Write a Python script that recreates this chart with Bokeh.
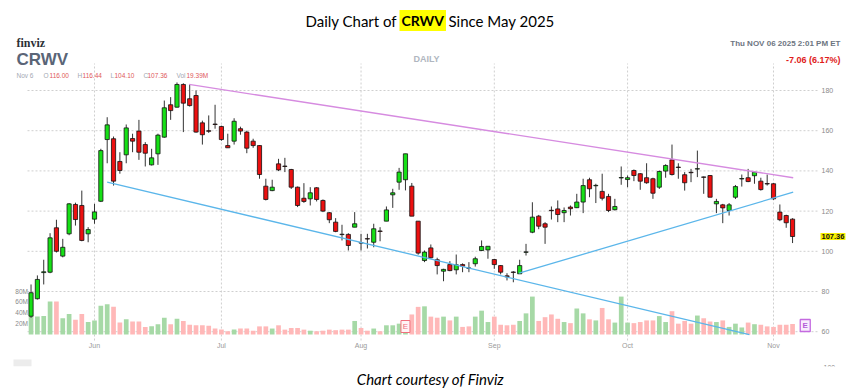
import pandas as pd
from bokeh.plotting import figure
from bokeh.models import Range1d, Label, ColumnDataSource
from bokeh.core.properties import value
from bokeh.embed import file_html
from bokeh.resources import INLINE

# ---------------- data ----------------
symbol = "CRWV"
holidays = ["2025-05-26", "2025-06-19", "2025-07-04", "2025-09-01"]
all_days = [d.strftime("%Y-%m-%d") for d in pd.bdate_range("2025-05-16", "2025-11-14")
            if d.strftime("%Y-%m-%d") not in holidays]
dates = [d for d in all_days if d <= "2025-11-06"]

opens = [67.7, 76.4, 89.4, 89.6, 111.7, 97.6, 108.7, 123.3, 122.8, 108.7,
         116.0, 124.9, 155.6, 156.0, 144.7, 148.0, 156.1, 159.8, 153.1, 143.0,
         148.5, 156.8, 172.9, 171.7, 183.0, 175.9, 177.5, 163.9, 160.0, 163.3,
         162.1, 152.6, 154.8, 161.0, 159.3, 154.8, 152.6, 132.4, 130.2, 143.5,
         142.4, 140.7, 131.9, 126.4, 126.1, 131.6, 125.3, 119.2, 114.5, 108.5,
         108.4, 112.0, 104.3, 106.3, 104.5, 110.1, 115.0, 128.1, 134.4, 135.6,
         132.4, 115.0, 95.4, 101.7, 95.8, 90.1, 93.4, 90.8, 93.4, 91.7,
         93.8, 100.4, 100.7, 95.9, 92.9, 87.8, 89.7, 88.8, 99.5, 109.5,
         117.5, 113.7, 120.4, 121.1, 119.2, 122.0, 121.7, 124.5, 135.6, 132.6,
         129.8, 127.3, 120.7, 136.5, 135.7, 140.2, 138.6, 136.6, 136.1, 131.9,
         139.9, 145.5, 141.9, 138.1, 139.3, 140.9, 137.0, 137.7, 123.6, 123.1,
         120.3, 126.9, 136.0, 136.6, 137.6, 134.9, 133.7, 133.6, 119.5, 117.8,
         116.00]
highs = [83.5, 88.0, 95.8, 109.0, 115.7, 106.2, 124.0, 124.2, 130.2, 112.0,
         123.6, 151.0, 166.7, 157.1, 149.3, 163.1, 158.5, 165.4, 154.3, 151.0,
         158.5, 175.0, 176.7, 184.0, 183.6, 183.0, 180.0, 165.0, 167.6, 172.9,
         162.5, 158.5, 166.2, 162.0, 160.0, 156.0, 152.8, 136.1, 135.6, 146.0,
         146.5, 141.0, 132.2, 133.9, 131.9, 131.9, 125.8, 119.5, 116.5, 113.2,
         109.0, 119.5, 108.7, 108.7, 113.7, 112.0, 122.3, 131.1, 141.5, 148.5,
         134.0, 115.0, 100.4, 103.4, 96.8, 91.3, 95.1, 98.4, 94.0, 94.6,
         97.3, 105.4, 102.5, 96.2, 93.1, 89.1, 90.1, 95.8, 103.7, 124.4,
         118.1, 114.5, 122.3, 125.3, 121.8, 122.8, 128.6, 136.1, 136.6, 133.6,
         138.6, 128.6, 126.1, 142.2, 137.7, 140.7, 138.9, 143.8, 136.6, 140.2,
         143.3, 153.1, 143.8, 139.4, 141.0, 150.1, 137.2, 137.9, 126.1, 123.6,
         124.0, 133.0, 138.2, 141.0, 139.9, 136.6, 138.2, 133.9, 123.3, 118.2,
         116.44]
lows = [66.9, 76.0, 83.5, 89.1, 99.4, 97.0, 108.0, 112.8, 105.0, 104.5,
        113.7, 124.5, 143.8, 132.7, 138.6, 143.8, 149.3, 145.5, 142.2, 142.7,
        143.0, 156.5, 165.4, 171.5, 159.3, 172.0, 159.0, 153.1, 158.9, 161.0,
        155.0, 151.5, 153.1, 158.0, 148.8, 151.5, 136.1, 125.3, 129.9, 139.9,
        139.4, 131.0, 122.0, 124.1, 122.8, 124.8, 119.5, 114.0, 109.5, 105.4,
        100.4, 112.0, 100.4, 101.4, 102.0, 105.0, 115.0, 121.6, 130.6, 130.3,
        117.5, 98.3, 94.6, 96.3, 88.5, 85.1, 90.1, 88.5, 89.6, 89.6,
        92.4, 100.1, 96.3, 91.3, 88.5, 85.5, 84.6, 88.8, 97.9, 109.0,
        111.0, 103.7, 115.8, 114.5, 114.5, 117.8, 121.5, 119.0, 126.9, 124.0,
        125.3, 119.5, 120.3, 133.1, 131.9, 134.9, 130.6, 133.6, 126.1, 131.0,
        136.6, 137.7, 136.1, 130.2, 134.4, 136.9, 128.6, 126.9, 119.0, 114.0,
        117.8, 126.0, 132.2, 134.4, 133.6, 130.2, 132.7, 125.6, 115.0, 111.7,
        104.10]
closes = [79.4, 86.0, 89.8, 106.7, 100.0, 102.0, 123.6, 115.8, 105.4, 110.8,
          119.6, 150.1, 162.9, 134.9, 140.2, 161.4, 154.8, 149.3, 148.8, 146.5,
          157.8, 171.4, 170.0, 183.0, 173.7, 172.5, 159.3, 158.0, 159.7, 163.1,
          155.6, 151.5, 164.7, 159.8, 151.3, 152.6, 138.2, 125.8, 131.9, 140.5,
          142.2, 131.9, 122.8, 124.8, 129.1, 125.8, 120.0, 115.7, 109.9, 108.3,
          102.9, 113.7, 104.1, 106.1, 111.2, 109.9, 120.6, 129.1, 139.4, 148.5,
          117.5, 99.1, 99.6, 96.8, 92.9, 91.0, 90.4, 93.3, 92.6, 91.5,
          96.3, 102.4, 102.5, 93.4, 89.6, 87.3, 89.5, 92.9, 99.7, 117.0,
          112.5, 112.0, 120.2, 118.3, 120.3, 121.2, 124.5, 132.7, 131.1, 132.8,
          126.4, 120.3, 122.3, 136.7, 136.6, 137.7, 134.9, 134.1, 128.9, 139.7,
          142.7, 138.2, 141.7, 134.1, 139.1, 141.1, 136.8, 126.9, 124.8, 121.6,
          123.1, 132.2, 136.2, 134.7, 139.4, 130.7, 133.5, 126.1, 115.7, 114.2,
          107.36]
volumes_m = [33, 33, 34, 61, 61, 30, 38, 27, 38, 23,
             26, 53, 56, 51, 22, 28, 24, 24, 14, 15,
             19, 31, 19, 29, 25, 18, 17, 17, 16, 11,
             9, 6, 9, 11, 11, 7, 15, 15, 11, 17,
             9, 12, 12, 9, 7, 6, 7, 9, 8, 9,
             9, 25, 12, 7, 11, 6, 17, 17, 20, 22,
             37, 51, 52, 33, 31, 33, 26, 33, 14, 15,
             33, 44, 23, 33, 18, 17, 18, 25, 39, 70,
             25, 32, 37, 29, 23, 21, 48, 39, 28, 26,
             49, 28, 22, 70, 22, 21, 23, 26, 26, 34,
             23, 43, 20, 25, 20, 35, 30, 24, 23, 26,
             14, 20, 13, 22, 19, 18, 15, 14, 18, 18,
             19.39]

month_labels = ["Jun", "Jul", "Aug", "Sep", "Oct", "Nov"]
price_ticks = [60, 80, 100, 120, 140, 160, 180]
volume_ticks = [20, 40, 60, 80]
volume_tick_labels = ["20M", "40M", "60M", "80M"]

# hand-drawn trendlines: (bar index, price)
resistance_x = [24.9, 120.1]
resistance_y = [183.0, 136.6]
support1_x = [12.0, 113.2]
support1_y = [134.4, 58.5]
support2_x = [76.9, 120.1]
support2_y = [89.1, 129.4]

earnings_past = ["2025-08-12"]
earnings_next = ["2025-11-10"]

change_abs = -7.06
change_pct = 6.17
last_volume_label = "19.39M"

# ---------------- layout constants (page pixels) ----------------
W, H = 860, 392
BAR_PX = 6.346        # horizontal pixels per session
JUN_PX = 94           # page x of the first June session
P180_PX = 90          # page y of price 180
PRICE_PX = 2.01       # pixels per 1 $
VOL0_PX = 334         # page y of zero volume
VOL_PX = 0.5417       # pixels per 1M shares
PANEL_L, PANEL_R, PANEL_T, PANEL_B = 27, 817, 63, 340

month_pos = []
for m in ["2025-06", "2025-07", "2025-08", "2025-09", "2025-10", "2025-11"]:
    month_pos.append(next(i for i, d in enumerate(dates) if d.startswith(m)))
JUN_IDX = month_pos[0]


def kx(px):
    return (px - JUN_PX) / BAR_PX + JUN_IDX


def py(px):
    return 180 - (px - P180_PX) / PRICE_PX


def vy(px):
    return (VOL0_PX - px) / VOL_PX


idx = list(range(len(dates)))
GREEN = "#16e016"
RED = "#ec1010"
VGREEN = "#a6d9a6"
VRED = "#ffb8b8"
up = [c >= o for o, c in zip(opens, closes)]
src = ColumnDataSource(dict(
    x=idx, open=opens, high=highs, low=lows, close=closes,
    top=[max(o, c) for o, c in zip(opens, closes)],
    bottom=[min(o, c) for o, c in zip(opens, closes)],
    color=[GREEN if u else RED for u in up],
    vol=volumes_m,
    vcolor=[VGREEN if u else VRED for u in up],
))

p = figure(width=W, height=H, x_range=Range1d(kx(0), kx(W)), y_range=Range1d(py(H), py(0)),
           x_axis_type=None, y_axis_type=None, output_backend="svg", toolbar_location=None,
           min_border=0, min_border_left=0, min_border_right=0, min_border_top=0, min_border_bottom=0,
           background_fill_color="white", border_fill_color="white", outline_line_color=None)
p.extra_y_ranges = {"vol": Range1d(vy(H), vy(0))}

AX_FONT = "Liberation Sans"
GRID = dict(line_color="#cfcfcf", line_dash="2 2", line_width=1)

# grid lines (price levels and month starts)
p.segment(x0=[kx(PANEL_L)] * len(price_ticks), x1=[kx(PANEL_R)] * len(price_ticks),
          y0=price_ticks, y1=price_ticks, **GRID)
p.segment(x0=month_pos, x1=month_pos, y0=[py(PANEL_B)] * len(month_pos),
          y1=[py(PANEL_T)] * len(month_pos), **GRID)

# axis labels
p.text(x=[kx(821)] * len(price_ticks), y=price_ticks, text=[str(t) for t in price_ticks],
       text_align="left", text_baseline="middle", text_font_size="7px", text_color="#8a8a8a",
       text_font=value(AX_FONT))
p.text(x=month_pos, y=[py(345)] * len(month_pos), text=month_labels, text_align="center",
       text_baseline="middle", text_font_size="7px", text_color="#9a9a9a", text_font=value(AX_FONT))
p.text(x=[kx(27.5)] * len(volume_ticks), y=volume_ticks, text=volume_tick_labels,
       text_align="right", text_baseline="middle", text_font_size="6.5px", text_color="#8a8a8a",
       text_font=value(AX_FONT), y_range_name="vol")

# volume bars
p.vbar(x="x", top="vol", bottom=0, width=0.74, fill_color="vcolor", line_color=None,
       y_range_name="vol", source=src)

# earnings markers
e_past = [all_days.index(d) for d in earnings_past]
e_next = [all_days.index(d) for d in earnings_next]
p.rect(x=e_past, y=[vy(326)] * len(e_past), width=9, height=12, width_units="screen",
       height_units="screen", fill_color="#fff4f5", line_color="#f0707e", line_width=1,
       y_range_name="vol")
p.text(x=e_past, y=[vy(326)] * len(e_past), text=["E"] * len(e_past), text_align="center",
       text_baseline="middle", text_font_size="8px", text_color="#f0707e",
       text_font=value(AX_FONT), y_range_name="vol")
p.rect(x=e_next, y=[vy(325)] * len(e_next), width=10, height=12, width_units="screen",
       height_units="screen", fill_color="#f8ecfc", line_color="#c46ae0", line_width=1.3,
       y_range_name="vol")
p.text(x=e_next, y=[vy(325)] * len(e_next), text=["E"] * len(e_next), text_align="center",
       text_baseline="middle", text_font_size="8px", text_color="#b45ad8",
       text_font=value(AX_FONT), text_font_style="bold", y_range_name="vol")

# candles
p.segment(x0="x", y0="low", x1="x", y1="high", line_color="#333333", line_width=1, source=src)
p.vbar(x="x", top="top", bottom="bottom", width=0.66, fill_color="color",
       line_color="#111111", line_width=0.8, source=src)

# trendlines
p.line(resistance_x, resistance_y, line_color="#d68be0", line_width=1.3)
p.line(support1_x, support1_y, line_color="#5bb6ea", line_width=1.3)
p.line(support2_x, support2_y, line_color="#5bb6ea", line_width=1.3)

# partially hidden RSI pane header (cut off by the caption strip in the source image)
p.quad(left=[kx(13)], right=[kx(31)], top=[py(359)], bottom=[py(366)], fill_color="#ececec",
       line_color=None)
p.text(x=[kx(823)], y=[py(367)], text=["100"], text_align="left", text_baseline="middle",
       text_font_size="7px", text_color="#8a8a8a", text_font=value(AX_FONT))
p.quad(left=[kx(0)], right=[kx(W)], top=[py(366)], bottom=[py(H)], fill_color="white",
       line_color=None)


# ---------------- texts (screen units; the frame covers the whole canvas) ----------------
def add_label(text, x, y, size, color, font="Liberation Sans", style="normal", align="left",
              bg=None, pad=0, yunits="screen"):
    lab = Label(x=x, y=(H - y) if yunits == "screen" else y, x_units="screen", y_units=yunits,
                text=text, text_font=font, text_font_size=size, text_color=color,
                text_font_style=style, text_align=align, text_baseline="middle")
    if bg is not None:
        lab.background_fill_color = bg
        lab.padding = pad
    p.add_layout(lab)
    return lab


# title
add_label("Daily Chart of", 305, 20, "15px", "#000000", font="Lato")
add_label(symbol, 399, 20, "14px", "#000000", font="Lato", style="bold", bg="#ffff00", pad=2)
add_label("Since May 2025", 448, 20, "15px", "#000000", font="Lato")

# finviz header
add_label("finviz", 16, 42.5, "12px", "#2b2f36", font="Liberation Serif", style="bold")
add_label(symbol, 16, 58.5, "17px", "#5a6577", font="'Liberation Sans Narrow', 'Liberation Sans'",
          style="bold")
add_label("DAILY", 426, 58, "9px", "#b0b6c0", style="bold", align="center")
add_label("Thu NOV 06 2025 2:01 PM ET", 840, 43, "8px", "#6d7581", style="bold", align="right")
add_label(f"{change_abs:.2f} ({change_pct:.2f}%)", 840, 59, "9px", "#e01b1b", style="bold",
          align="right")

GREY = "#a3a8b3"
VALC = "#e0585a"
add_label("Nov 6", 16, 75, "6.5px", GREY)
for key, val, xk, xv in [("O", opens[-1], 43, 49), ("H", highs[-1], 77, 82),
                         ("L", lows[-1], 110, 114), ("C", closes[-1], 143, 147)]:
    add_label(key, xk, 75, "6.5px", GREY)
    add_label(f"{val:.2f}", xv, 75, "6.5px", VALC)
add_label("Vol", 176, 75, "6.5px", GREY)
add_label(last_volume_label, 186, 75, "6.5px", VALC)

# last price tag
add_label(f"{closes[-1]:.2f}", 820, closes[-1], "7.5px", "#111111", style="bold",
          bg="#f7ef00", pad=1, yunits="data")

# caption
add_label("Chart courtesy of Finviz", 430, 378, "15px", "#000000", font="Lato", style="italic",
          align="center")

open("out.html", "w").write(file_html(p, INLINE))
